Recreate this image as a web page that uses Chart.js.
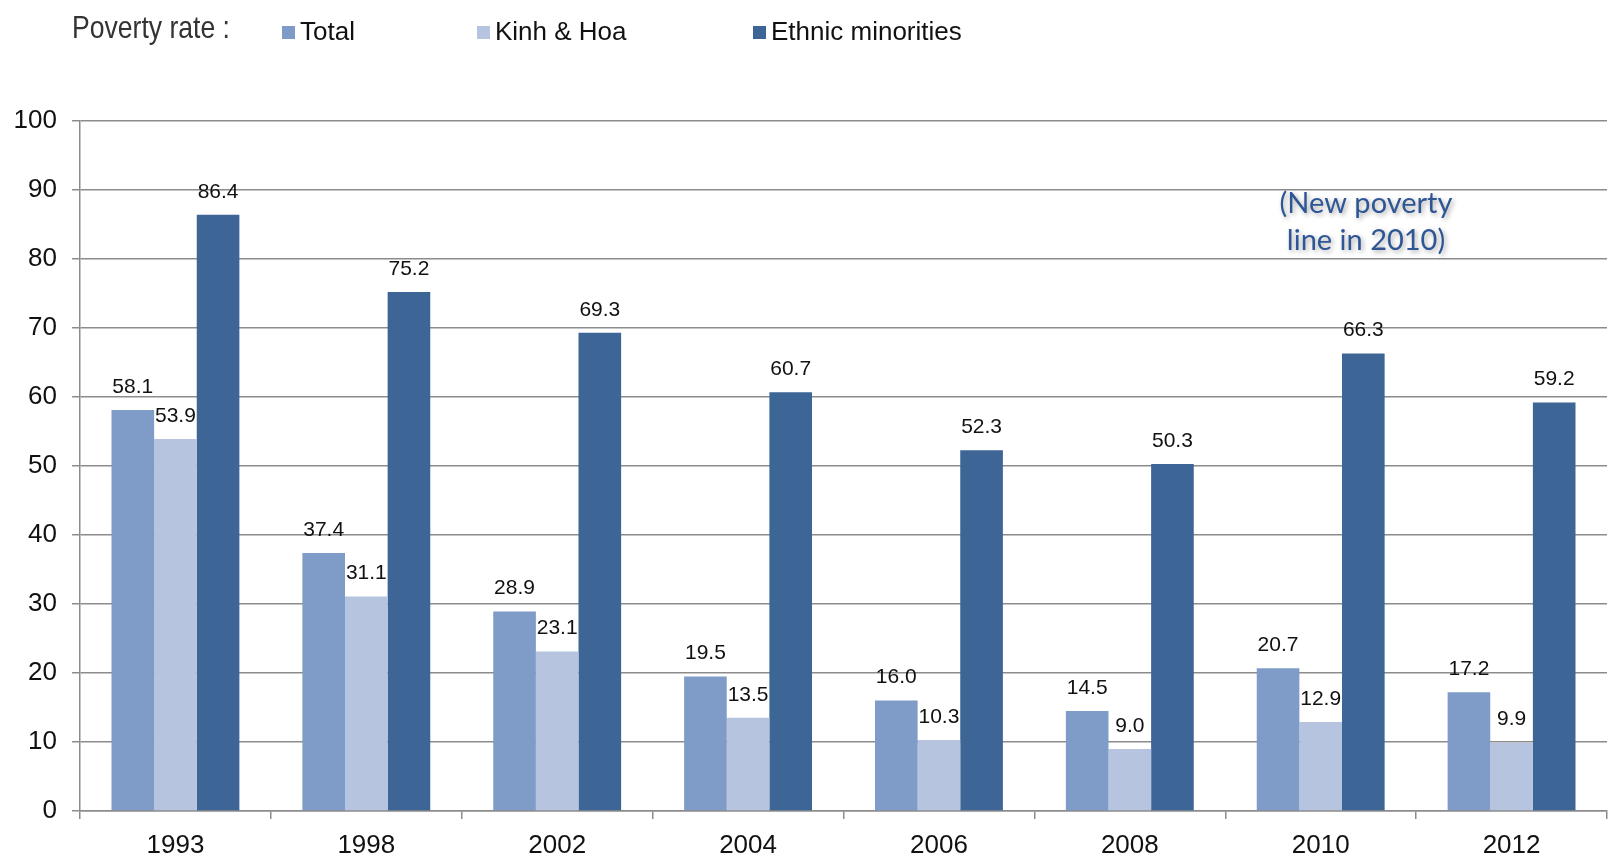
<!DOCTYPE html>
<html>
<head>
<meta charset="utf-8">
<title>Poverty rate</title>
<script src="https://cdn.jsdelivr.net/npm/chart.js@4/dist/chart.umd.min.js"></script>
<style>
  html, body { margin: 0; padding: 0; background: #ffffff; }
  #wrap { width: 1610px; height: 856px; }
</style>
</head>
<body>
<div id="wrap"><canvas id="chart" width="1610" height="856"></canvas></div>
<script>
// Survey years
const years = ['1993', '1998', '2002', '2004', '2006', '2008', '2010', '2012'];

// Poverty rate (%) by group
const totalRate    = [58.1, 37.4, 28.9, 19.5, 16.0, 14.5, 20.7, 17.2];
const kinhHoaRate  = [53.9, 31.1, 23.1, 13.5, 10.3,  9.0, 12.9,  9.9];
const minorityRate = [86.4, 75.2, 69.3, 60.7, 52.3, 50.3, 66.3, 59.2];

// Series names
const seriesNames = ['Total', 'Kinh & Hoa', 'Ethnic minorities'];

// Y axis range
const yMin = 0, yMax = 100, yStep = 10;

const legendTitle = 'Poverty rate :';
const noteLines = ['(New poverty', 'line in 2010)'];

const colors = ['#7F9CC8', '#B6C4DF', '#3D6596'];
const FONT = '"Liberation Sans", Arial, sans-serif';

// Value labels above every bar
const valueLabels = {
  id: 'valueLabels',
  afterDatasetsDraw(chart) {
    const ctx = chart.ctx;
    ctx.save();
    ctx.font = '21px ' + FONT;
    ctx.fillStyle = '#111111';
    ctx.textAlign = 'center';
    ctx.textBaseline = 'middle';
    chart.data.datasets.forEach((ds, i) => {
      const meta = chart.getDatasetMeta(i);
      meta.data.forEach((bar, j) => {
        ctx.fillText(ds.data[j].toFixed(1), bar.x, bar.y - 23);
      });
    });
    ctx.restore();
  }
};

// Legend row across the top, with a leading caption
const topLegend = {
  id: 'topLegend',
  afterDraw(chart) {
    const ctx = chart.ctx;
    ctx.save();
    // caption in a condensed face
    ctx.fillStyle = '#333333';
    ctx.textBaseline = 'alphabetic';
    ctx.textAlign = 'left';
    ctx.font = '32px ' + FONT;
    ctx.translate(72, 38);
    ctx.scale(0.83, 1);
    ctx.fillText(legendTitle, 0, 0);
    ctx.restore();

    ctx.save();
    const xs = [282, 477, 753];
    ctx.font = '26px ' + FONT;
    ctx.textBaseline = 'middle';
    ctx.textAlign = 'left';
    chart.data.datasets.forEach((ds, i) => {
      ctx.fillStyle = ds.backgroundColor;
      ctx.fillRect(xs[i], 26, 13, 13);
      ctx.fillStyle = '#111111';
      ctx.fillText(ds.label, xs[i] + 18, 33);
    });
    ctx.restore();
  }
};

// Note about the 2010 poverty line change
const lineNote = {
  id: 'lineNote',
  afterDraw(chart) {
    const ctx = chart.ctx;
    ctx.save();
    ctx.font = '29px Lato, "Open Sans", sans-serif';
    ctx.fillStyle = '#2F5694';
    ctx.textAlign = 'center';
    ctx.textBaseline = 'middle';
    ctx.shadowColor = 'rgba(0,0,0,0.35)';
    ctx.shadowBlur = 5;
    ctx.shadowOffsetX = 2;
    ctx.shadowOffsetY = 2;
    ctx.fillText(noteLines[0], 1366, 204);
    ctx.fillText(noteLines[1], 1366, 241);
    ctx.restore();
  }
};

new Chart(document.getElementById('chart'), {
  type: 'bar',
  data: {
    labels: years,
    datasets: [
      { label: seriesNames[0], data: totalRate,    backgroundColor: colors[0] },
      { label: seriesNames[1], data: kinhHoaRate,  backgroundColor: colors[1] },
      { label: seriesNames[2], data: minorityRate, backgroundColor: colors[2] }
    ]
  },
  options: {
    responsive: false,
    animation: false,
    devicePixelRatio: 1,
    layout: { padding: { top: 121, right: 3, bottom: 0, left: 0 } },
    datasets: {
      bar: { categoryPercentage: 0.67, barPercentage: 1.0, borderWidth: 0 }
    },
    plugins: {
      legend: { display: false },
      tooltip: { enabled: false },
      title: { display: false }
    },
    scales: {
      x: {
        grid: {
          display: true,
          offset: true,
          drawOnChartArea: false,
          drawTicks: true,
          tickLength: 8,
          color: '#8c8c8c',
          lineWidth: 1.5
        },
        border: { display: true, color: '#8c8c8c', width: 1.5 },
        ticks: {
          color: '#111111',
          font: { family: FONT, size: 26 },
          padding: 11,
          maxRotation: 0
        },
        afterFit(scale) { scale.height = 45; }
      },
      y: {
        min: yMin,
        max: yMax,
        grid: {
          color: '#8c8c8c',
          lineWidth: 1.5,
          tickLength: 8,
          drawTicks: true
        },
        border: { display: true, color: '#8c8c8c', width: 1.5 },
        ticks: {
          stepSize: yStep,
          color: '#111111',
          font: { family: FONT, size: 26 },
          padding: 15
        },
        afterFit(scale) { scale.width = 80; }
      }
    }
  },
  plugins: [valueLabels, topLegend, lineNote]
});
</script>
</body>
</html>
